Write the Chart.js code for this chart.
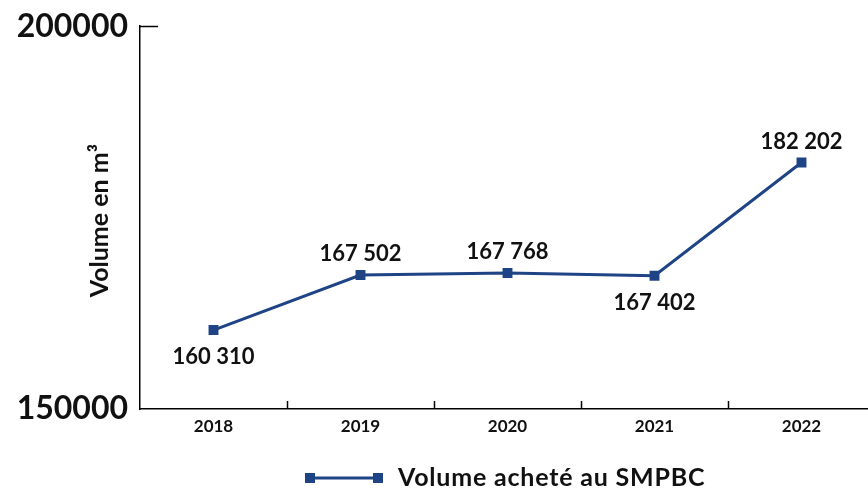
<!DOCTYPE html>
<html>
<head>
<meta charset="utf-8">
<script src="https://cdn.jsdelivr.net/npm/chart.js@4/dist/chart.umd.min.js"></script>
<style>
  html, body { margin: 0; padding: 0; background: #fff; overflow: hidden; }
  #wrap { width: 868px; height: 489px; overflow: hidden; position: relative; }
  #volChart { position: absolute; left: 0; top: -5px; }
</style>
</head>
<body>
<div id="wrap"><canvas id="volChart" width="882" height="494"></canvas></div>
<script>
// Data
const years = ['2018', '2019', '2020', '2021', '2022']
const volumes = [160310, 167502, 167768, 167402, 182202]
const yTicks = [150000, 200000]
const seriesName = 'Volume acheté au SMPBC'
const yTitle = 'Volume en m³'
// where each value label sits relative to its point
const labelSide = ['below', 'above', 'above', 'below', 'above']

const BLUE = '#1f4486'
const FONT = 'Lato, "Open Sans", sans-serif'

function fmt (v) {
  return String(v).replace(/\B(?=(\d{3})+(?!\d))/g, ' ')
}

// small inside tick marks, value labels, axis title and legend
const extras = {
  id: 'extras',
  afterDatasetsDraw (chart) {
    const ctx = chart.ctx
    const x = chart.scales.x
    const y = chart.scales.y
    const area = chart.chartArea
    ctx.save()
    ctx.strokeStyle = '#000'
    ctx.lineWidth = 1.5
    // x ticks between categories, pointing up
    for (let i = 1; i < years.length; i++) {
      const px = Math.round((x.getPixelForTick(i - 1) + x.getPixelForTick(i)) / 2) + 0.5
      ctx.beginPath()
      ctx.moveTo(px, area.bottom)
      ctx.lineTo(px, area.bottom - 8)
      ctx.stroke()
    }
    // y tick at top, pointing right
    const ty = Math.round(y.getPixelForValue(yTicks[1])) + 0.5
    ctx.beginPath()
    ctx.moveTo(area.left, ty)
    ctx.lineTo(area.left + 18, ty)
    ctx.stroke()

    // value labels
    const meta = chart.getDatasetMeta(0)
    ctx.fillStyle = '#111'
    ctx.font = 'bold 22px ' + FONT
    ctx.textAlign = 'center'
    ctx.textBaseline = 'middle'
    meta.data.forEach((pt, i) => {
      const dy = labelSide[i] === 'above' ? -21 : 27
      ctx.fillText(fmt(volumes[i]), pt.x, pt.y + dy)
    })

    // y axis title
    ctx.save()
    ctx.translate(100, (area.top + area.bottom) / 2 + 3)
    ctx.rotate(-Math.PI / 2)
    ctx.font = 'bold 25px ' + FONT
    ctx.fillText(yTitle, 0, 0)
    ctx.restore()

    // legend
    const ly = chart.height - 11
    const lx = 310
    ctx.strokeStyle = BLUE
    ctx.lineWidth = 3
    ctx.beginPath()
    ctx.moveTo(lx, ly)
    ctx.lineTo(lx + 68, ly)
    ctx.stroke()
    ctx.fillStyle = BLUE
    ctx.fillRect(lx - 5, ly - 5, 10, 10)
    ctx.fillRect(lx + 63, ly - 5, 10, 10)
    ctx.fillStyle = '#111'
    ctx.textAlign = 'left'
    ctx.font = 'bold 25px ' + FONT
    ctx.letterSpacing = '0.8px'
    ctx.fillText(seriesName, lx + 88, ly)
    ctx.restore()
  }
}

const ctx = document.getElementById('volChart').getContext('2d')
const volChart = new Chart(ctx, {
  type: 'line',
  data: {
    labels: years,
    datasets: [{
      label: seriesName,
      data: volumes,
      borderColor: BLUE,
      backgroundColor: BLUE,
      borderWidth: 3,
      pointStyle: 'rect',
      pointRadius: 7,
      pointBorderWidth: 0,
      tension: 0
    }]
  },
  options: {
    responsive: false,
    animation: false,
    layout: { padding: { top: 20, right: 0, left: 0, bottom: 0 } },
    plugins: {
      legend: { display: false },
      tooltip: { enabled: false }
    },
    scales: {
      x: {
        offset: true,
        grid: { display: false, drawTicks: false },
        border: { display: true, color: '#000', width: 1.5 },
        ticks: { color: '#111', padding: 7, font: { family: FONT, size: 17, weight: 'bold' } },
        afterFit (s) { s.height = 80 }
      },
      y: {
        min: 150000,
        max: 200000,
        afterBuildTicks (s) { s.ticks = yTicks.map(v => ({ value: v })) },
        grid: { display: false, drawTicks: false },
        border: { display: true, color: '#000', width: 1.5 },
        ticks: {
          color: '#111',
          padding: 12,
          font: { family: FONT, size: 32, weight: 'bold' },
          callback: v => String(v)
        },
        afterFit (s) { s.width = 140 }
      }
    }
  },
  plugins: [extras]
})
volChart.update()
</script>
</body>
</html>
